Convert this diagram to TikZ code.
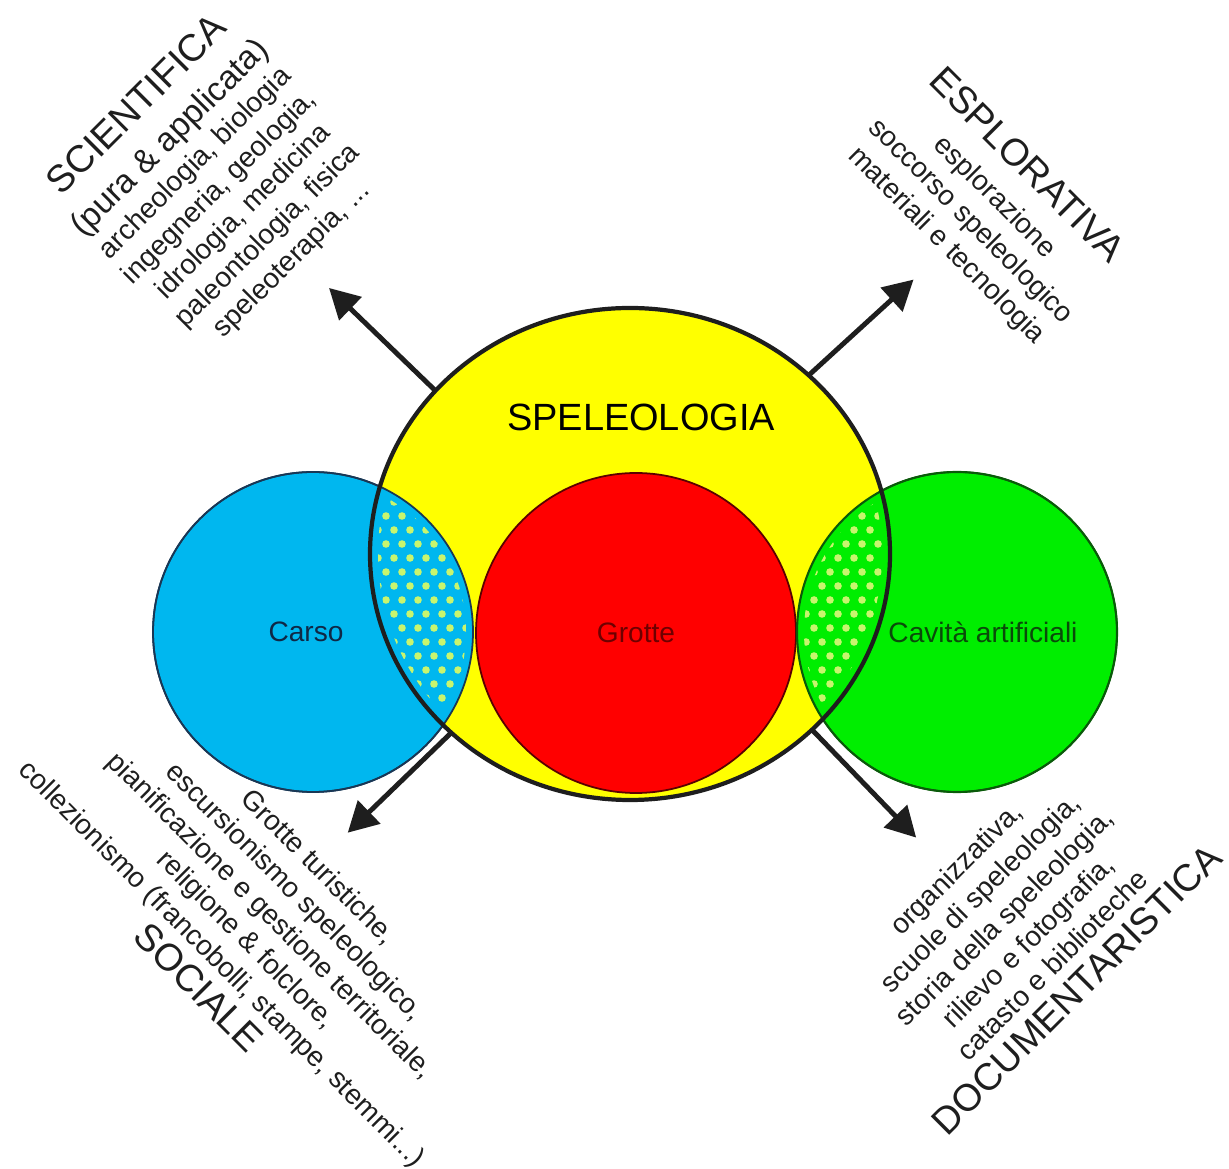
\documentclass[tikz,border=0pt]{standalone}
\usepackage{fontspec}
\setmainfont{Liberation Sans}
\usetikzlibrary{arrows.meta,shapes.geometric}

\definecolor{carsoblue}{RGB}{0,183,239}
\definecolor{carsoedge}{RGB}{25,55,85}
\definecolor{carsotext}{RGB}{15,40,70}
\definecolor{cavgreen}{RGB}{0,238,0}
\definecolor{cavedge}{RGB}{10,90,10}
\definecolor{cavtext}{RGB}{10,75,10}
\definecolor{grottered}{RGB}{255,0,0}
\definecolor{grotteedge}{RGB}{90,0,0}
\definecolor{grottetext}{RGB}{110,0,0}
\definecolor{speyellow}{RGB}{255,255,0}
\definecolor{dotlime}{RGB}{200,245,110}
\definecolor{inkgray}{RGB}{30,30,30}

\newcommand{\titlesize}{\fontsize{10.8}{13}\selectfont}

\tikzset{
  disc/.style={circle, minimum size=32mm, inner sep=0pt, outer sep=0pt, line width=0.5pt},
  spelshape/.style={ellipse, minimum width=52mm, minimum height=49.2mm, inner sep=0pt, outer sep=0pt},
  lbl/.style={inner sep=0pt, font=\fontsize{8}{9.7}\selectfont},
  field/.style={inner sep=0pt, align=center, text=inkgray, font=\fontsize{8}{9.7}\selectfont},
  fan/.style={line width=1.4pt, inkgray, -{Triangle[length=8.5pt,width=9pt]}},
}

\begin{document}
\begin{tikzpicture}[x=0.1mm, y=0.1mm]
\useasboundingbox (0,0) rectangle (1229,1168);

% cerchi laterali
\node[disc, fill=carsoblue, draw=carsoedge] (carso) at (313,536) {};
\node[disc, fill=cavgreen, draw=cavedge] (cav) at (957,536) {};
% speleologia
\node[spelshape, fill=speyellow] (spel) at (630,614) {};

% zone comuni puntinate
\begin{scope}
  \clip (spel.center) ellipse [x radius=260, y radius=246];
  \fill[carsoblue] (carso.center) circle (160);
  \fill[cavgreen] (cav.center) circle (160);
  \clip (spel.center) ellipse [x radius=252, y radius=238];
  \begin{scope}
    \clip (carso.center) circle (153);
    \foreach \r in {0,...,17}
      \foreach \c in {0,...,7}
        \fill[dotlime] ({362+16*\c+8*mod(\r,2)}, {442+14*\r}) circle (3.8);
  \end{scope}
  \begin{scope}
    \clip (cav.center) circle (153);
    \foreach \r in {0,...,17}
      \foreach \c in {0,...,7}
        \fill[dotlime] ({790+16*\c+8*mod(\r,2)}, {442+14*\r}) circle (3.8);
  \end{scope}
\end{scope}

% grotte
\node[disc, fill=grottered, draw=grotteedge] (grotte) at (636,535) {};

% contorni
\draw[carsoedge, line width=0.5pt] (carso.center) circle (160);
\draw[cavedge, line width=0.6pt] (cav.center) circle (160);
\draw[inkgray, line width=1.2pt] (spel.center) ellipse [x radius=260, y radius=246];

% etichette
\node[lbl, text=carsotext] (carsolbl) at ([xshift=-0.7mm]carso.center) {Carso};
\node[lbl, text=grottetext] (grottelbl) at (grotte.center) {Grotte};
\node[lbl, text=cavtext] (cavlbl) at ([xshift=2.6mm]cav.center) {Cavità artificiali};
\node[lbl, font=\titlesize] (spellbl) at ([xshift=1.1mm, yshift=13.7mm]spel.center) {SPELEOLOGIA};

% frecce
\coordinate (scitip) at ([shift={(136:148)}]spel.140);
\coordinate (espltip) at ([shift={(42.4:142)}]spel.45);
\coordinate (soctip) at ([shift={(224:144)}]spel.225);
\coordinate (doctip) at ([shift={(314:150)}]spel.316);
\draw[fan] (spel.140) -- (scitip);
\draw[fan] (spel.45) -- (espltip);
\draw[fan] (spel.225) -- (soctip);
\draw[fan] (spel.316) -- (doctip);

% ambiti
\node[field, rotate=45] (sci) at (214,986)
  {{\titlesize SCIENTIFICA}\\[3pt]
   {\fontsize{9.5}{11}\selectfont (pura \& applicata)}\\
   archeologia, biologia\\
   ingegneria, geologia,\\
   idrologia, medicina\\
   paleontologia, fisica\\
   speleoterapia, ...};
\node[field, rotate=-45] (espl) at (987,963)
  {{\titlesize ESPLORATIVA}\\[2pt]
   esplorazione\\
   soccorso speleologico\\
   materiali e tecnologia};
\node[field, rotate=-45] (soc) at (258,240)
  {Grotte turistiche,\\
   escursionismo speleologico,\\
   pianificazione e gestione territoriale,\\
   religione \& folclore,\\
   collezionismo (francobolli, stampe, stemmi...)\\[1pt]
   {\titlesize SOCIALE}};
\node[field, rotate=45] (doc) at (1017,238)
  {organizzativa,\\
   scuole di speleologia,\\
   storia della speleologia,\\
   rilievo e fotografia,\\
   catasto e biblioteche\\[1pt]
   {\titlesize DOCUMENTARISTICA}};
\end{tikzpicture}
\end{document}
